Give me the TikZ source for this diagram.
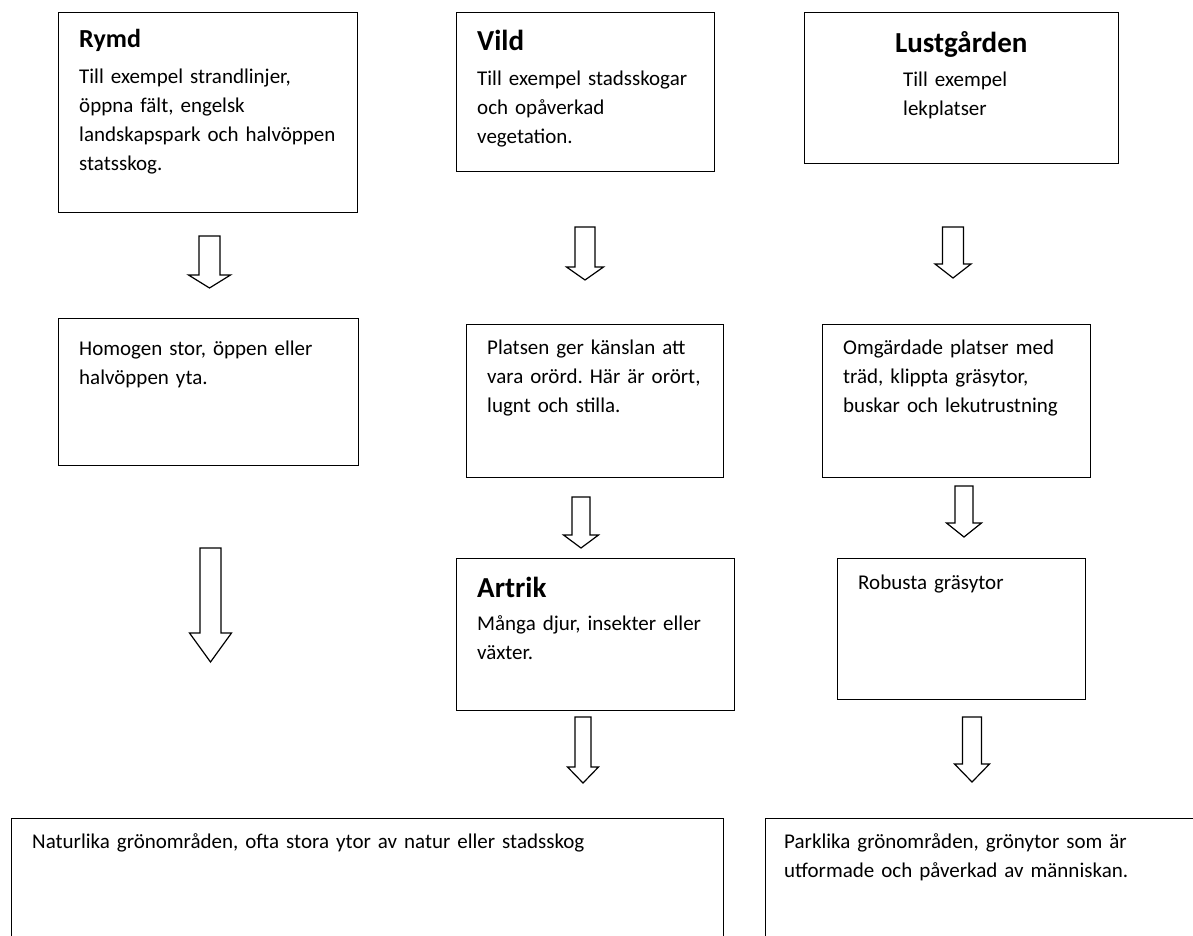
\documentclass[tikz,border=0pt]{standalone}
\usepackage{fontspec}
\setmainfont{Carlito}

\newcommand{\titlefont}[1][29]{\fontsize{#1}{32}\bfseries\selectfont}
\newcommand{\bodyfont}{\fontsize{21}{29}\selectfont\frenchspacing}

\begin{document}
\begin{tikzpicture}[x=1pt, y=-1pt]
    \tikzset{
      box/.style={draw, line width=1.4pt, anchor=north west, inner sep=0pt},
      txt/.style={anchor=north west, inner xsep=21pt, inner ysep=0pt, align=left,
        text width=440pt, font=\bodyfont},
      arrowline/.style={draw, line width=1.2pt, fill=white, line join=miter},
      pics/hollowarrow/.style args={#1/#2/#3/#4}{code={
        \path[arrowline] (-#3,0) -- (#3,0) -- (#3,#1-#2) -- (#4,#1-#2) -- (0,#1)
          -- (-#4,#1-#2) -- (-#3,#1-#2) -- cycle;
      }}
    }
    \useasboundingbox (0,0) rectangle (1193,936);
    \clip (0,0) rectangle (1193,936);

    % top row
    \node[box, minimum width=299pt, minimum height=200pt] (rymd) at (58,12) {};
    \node[txt, text height=35pt] (rymdtxt) at (rymd.north west)
      {{\titlefont[26]Rymd}\\[7pt]Till exempel strandlinjer,\\öppna fält, engelsk\\landskapspark och halvöppen\\statsskog.};
    \node[box, minimum width=258pt, minimum height=159pt] (vild) at (456,12) {};
    \node[txt, text height=38pt] (vildtxt) at (vild.north west)
      {{\titlefont Vild}\\[6pt]Till exempel stadsskogar\\och opåverkad\\vegetation.};
    \node[box, minimum width=314pt, minimum height=151pt] (lust) at (804,12) {};
    \node[txt, text height=40pt, text width=272pt] (lusttxt) at (lust.north west)
      {\makebox[\linewidth]{\titlefont Lustgården}\\[5pt]\hspace*{78pt}Till exempel\\\hspace*{78pt}lekplatser};

    % second row
    \node[box, minimum width=300pt, minimum height=147pt] (homogen) at (58,318) {};
    \node[txt, text height=37pt] (homogentxt) at (homogen.north west)
      {Homogen stor, öppen eller\\halvöppen yta.};
    \node[box, minimum width=257pt, minimum height=153pt] (platsen) at (466,324) {};
    \node[txt, text height=30pt] (platsentxt) at (platsen.north west)
      {Platsen ger känslan att\\vara orörd. Här är orört,\\lugnt och stilla.};
    \node[box, minimum width=268pt, minimum height=153pt] (omgard) at (822,324) {};
    \node[txt, text height=30pt] (omgardtxt) at (omgard.north west)
      {Omgärdade platser med\\träd, klippta gräsytor,\\buskar och lekutrustning};

    % third row
    \node[box, minimum width=278pt, minimum height=152pt] (artrik) at (456,558) {};
    \node[txt, text height=39pt] (artriktxt) at (artrik.north west)
      {{\titlefont Artrik}\\[4pt]Många djur, insekter eller\\växter.};
    \node[box, minimum width=248pt, minimum height=141pt] (robusta) at (837,558) {};
    \node[txt, text height=31pt] (robustatxt) at (robusta.north west)
      {Robusta gräsytor};

    % bottom row, cut by the page edge
    \node[box, minimum width=712pt, minimum height=200pt] (natur) at (11,818) {};
    \node[txt, text height=30pt, text width=670pt] (naturtxt) at (natur.north west)
      {Naturlika grönområden, ofta stora ytor av natur eller stadsskog};
    \node[box, minimum width=500pt, minimum height=200pt] (park) at (765,818) {};
    \node[txt, text height=30pt, inner xsep=19pt] (parktxt) at (park.north west)
      {Parklika grönområden, grönytor som är\\utformade och påverkad av människan.};

    % arrows
    \pic (rymdpil) at (209.5,236) {hollowarrow=52/13/10.5/21};
    \pic (vildpil) at (585,227) {hollowarrow=53/13/10/18.5};
    \pic (lustpil) at (953,227) {hollowarrow=51/14/10.5/18};
    \pic (homogenpil) at (210.5,548) {hollowarrow=114/29/10.5/21};
    \pic (platsenpil) at (581,497) {hollowarrow=51/13/9/17.5};
    \pic (artrikpil) at (583,717) {hollowarrow=66/16/8/15.5};
    \pic (omgardpil) at (964,486) {hollowarrow=51/14/9/17.5};
    \pic (robustapil) at (972,717) {hollowarrow=65/18/9.5/17.5};
\end{tikzpicture}
\end{document}
